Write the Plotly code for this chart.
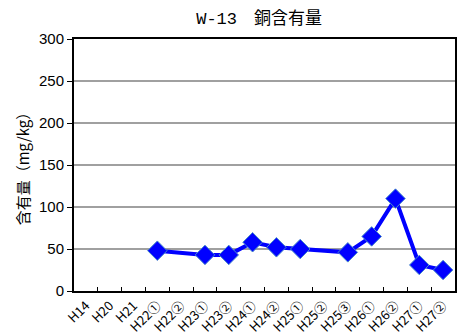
import plotly.graph_objects as go

# Sampling rounds and copper content (mg/kg); None = not measured
categories = ["H14", "H20", "H21", "H22①", "H22②", "H23①", "H23②", "H24①",
              "H24②", "H25①", "H25②", "H25③", "H26①", "H26②", "H27①", "H27②"]
copper = [None, None, None, 48, None, 43, 43, 58, 52, 50, None, 46, 65, 110, 31, 25]
y_ticks = [0, 50, 100, 150, 200, 250, 300]

fig = go.Figure()
fig.add_trace(go.Scatter(
    x=categories, y=copper, mode="lines+markers", connectgaps=True,
    line=dict(color="#0000FF", width=4),
    marker=dict(symbol="diamond", size=15, color="#0000FF",
                line=dict(color="#4A8CC8", width=1)),
    showlegend=False,
))

fig.update_layout(
    width=457, height=336,
    margin=dict(l=74, r=0, t=39, b=44),
    paper_bgcolor="white", plot_bgcolor="white",
    title=dict(text="<span style='font-family:Liberation Mono'>W-13</span>　銅含有量",
               x=0.567, xanchor="center", y=0.945, yanchor="middle",
               font=dict(family="Noto Sans CJK JP", size=17, color="#000000")),
    font=dict(family="Liberation Sans", color="#000000"),
)

fig.update_xaxes(
    type="category", categoryorder="array", categoryarray=categories,
    range=[-0.5, len(categories) - 0.5],
    showline=True, linecolor="#000000", linewidth=2, mirror=True,
    ticks="inside", tickson="boundaries", ticklen=4, tickcolor="#000000", tickwidth=1,
    showgrid=False, tickangle=-45,
    tickfont=dict(family="Noto Sans CJK JP", size=13, color="#000000"),
)
fig.update_yaxes(
    range=[0, 300], tickvals=y_ticks,
    showline=True, linecolor="#000000", linewidth=2, mirror=True,
    ticks="outside", ticklen=5, tickcolor="#000000",
    showgrid=True, gridcolor="#A0A0A0", gridwidth=1.5, zeroline=False,
    tickfont=dict(family="Liberation Sans", size=15, color="#000000"),
    title=dict(text="含有量（mg/kg）", standoff=6,
               font=dict(family="Noto Sans CJK JP", size=15, color="#000000")),
)

fig.write_html("out.html")
